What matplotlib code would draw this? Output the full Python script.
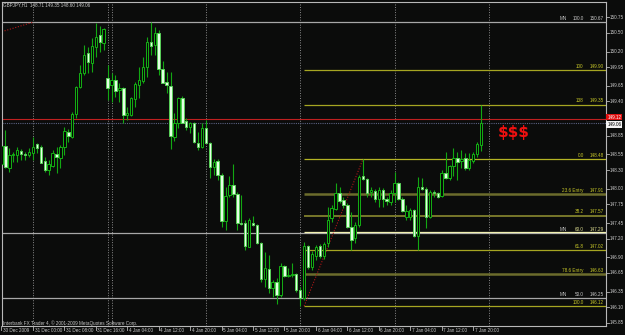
import numpy as np
import matplotlib.pyplot as plt
import matplotlib.transforms as mtransforms

# H1 bars, GBPJPY, 30 Dec 2009 16:00 .. 7 Jan 2010 22:00
opens = [148.40, 148.69, 148.34, 148.54, 148.54, 148.61, 148.56, 148.54, 148.58, 148.72,
         148.67, 148.45, 148.30, 148.37, 148.56, 148.50, 148.67, 148.91, 148.83, 149.20,
         149.63, 149.86, 150.18, 150.02, 150.27, 150.47, 150.34, 149.78, 149.67, 149.75,
         149.59, 149.62, 149.18, 149.18, 149.44, 149.67, 149.73, 149.95, 150.35, 150.31,
         150.50, 149.92, 149.71, 149.65, 148.83, 149.06, 149.46, 149.09, 148.99, 149.06,
         148.74, 148.67, 148.98, 148.74, 148.35, 148.45, 148.22, 147.49, 147.90, 148.06,
         147.92, 147.45, 147.45, 147.07, 147.45, 147.42, 147.13, 146.56, 146.72, 146.41,
         146.51, 146.30, 146.76, 146.60, 146.62, 146.64, 146.38, 146.25, 147.09, 146.75,
         146.92, 147.09, 146.92, 147.13, 147.53, 147.68, 147.93, 147.82, 147.74, 147.39,
         147.21, 147.42, 148.21, 148.16, 147.95, 147.97, 147.84, 147.98, 147.84, 147.79,
         147.93, 148.10, 147.84, 147.55, 147.55, 147.66, 147.25, 148.03, 148.00, 147.55,
         147.95, 147.93, 147.89, 148.25, 148.18, 148.37, 148.50, 148.45, 148.50, 148.34,
         148.45, 148.56, 148.71]
highs = [148.80, 148.94, 148.66, 148.59, 148.67, 148.64, 148.59, 148.66, 148.83, 148.74,
         148.70, 148.51, 148.46, 148.62, 148.67, 148.70, 148.99, 148.96, 149.23, 149.65,
         149.99, 150.31, 150.27, 150.42, 150.66, 150.61, 150.58, 149.99, 149.86, 149.83,
         149.70, 149.63, 149.31, 149.47, 149.71, 149.95, 150.11, 150.43, 150.67, 150.59,
         150.55, 150.05, 149.87, 149.87, 149.22, 149.47, 149.48, 149.14, 149.07, 149.07,
         148.91, 149.06, 149.10, 148.75, 148.48, 148.48, 148.25, 148.03, 148.21, 148.40,
         147.95, 147.90, 147.50, 147.53, 147.57, 147.44, 147.14, 146.99, 146.94, 146.54,
         146.57, 146.81, 146.78, 146.73, 146.81, 146.65, 146.43, 147.15, 147.10, 147.00,
         147.10, 147.12, 147.15, 147.71, 147.74, 148.10, 148.03, 147.87, 147.77, 147.63,
         147.47, 148.22, 148.48, 148.18, 148.03, 148.00, 148.03, 148.01, 147.87, 147.98,
         148.27, 148.11, 147.87, 147.74, 147.69, 147.68, 148.19, 148.18, 148.03, 147.98,
         147.98, 147.95, 148.30, 148.59, 148.38, 148.66, 148.59, 148.62, 148.58, 148.58,
         148.59, 148.75, 149.35]
lows = [148.18, 148.34, 148.27, 148.43, 148.43, 148.46, 148.46, 148.51, 148.46, 148.58,
        148.41, 148.27, 148.22, 148.35, 148.25, 148.34, 148.54, 148.75, 148.82, 149.14,
        149.62, 149.83, 149.86, 149.87, 150.11, 150.19, 150.23, 149.42, 149.39, 149.47,
        149.39, 149.06, 149.10, 149.17, 149.31, 149.46, 149.70, 149.79, 150.15, 150.15,
        149.83, 149.69, 149.54, 148.64, 148.77, 148.98, 149.05, 148.94, 148.90, 148.74,
        148.62, 148.66, 148.73, 148.18, 148.22, 148.14, 147.39, 147.34, 147.87, 147.87,
        147.34, 147.42, 147.02, 147.06, 147.41, 147.12, 146.51, 146.43, 146.33, 146.27,
        146.16, 146.27, 146.59, 146.59, 146.58, 146.35, 146.12, 146.22, 146.72, 146.70,
        146.86, 146.89, 146.88, 147.07, 147.47, 147.66, 147.77, 147.69, 147.37, 147.02,
        147.13, 147.39, 148.14, 147.87, 147.87, 147.79, 147.71, 147.71, 147.74, 147.74,
        147.79, 147.82, 147.63, 147.50, 147.50, 147.23, 147.02, 147.98, 147.37, 147.53,
        147.87, 147.85, 147.87, 148.16, 148.14, 148.21, 148.14, 148.34, 148.30, 148.30,
        148.42, 148.51, 148.60]
closes = [148.68, 148.35, 148.54, 148.56, 148.62, 148.56, 148.54, 148.59, 148.67, 148.66,
          148.42, 148.30, 148.40, 148.58, 148.51, 148.67, 148.93, 148.85, 149.20, 149.63,
          149.86, 150.15, 150.03, 150.29, 150.43, 150.35, 150.56, 149.62, 149.75, 149.57,
          149.62, 149.18, 149.22, 149.46, 149.68, 149.75, 149.95, 150.35, 150.29, 150.50,
          149.92, 149.70, 149.67, 148.85, 149.06, 149.46, 149.06, 148.99, 149.06, 148.75,
          148.67, 148.98, 148.74, 148.35, 148.43, 148.22, 147.49, 147.89, 148.06, 147.92,
          147.45, 147.44, 147.09, 147.50, 147.42, 147.13, 146.56, 146.73, 146.41, 146.51,
          146.30, 146.76, 146.60, 146.62, 146.64, 146.38, 146.25, 147.09, 146.75, 146.95,
          147.07, 146.92, 147.12, 147.50, 147.69, 147.93, 147.81, 147.74, 147.39, 147.18,
          147.42, 148.19, 148.16, 147.93, 147.98, 147.84, 147.98, 147.84, 147.81, 147.93,
          148.10, 147.84, 147.65, 147.65, 147.66, 147.25, 148.03, 148.00, 147.55, 147.95,
          147.93, 147.87, 148.25, 148.18, 148.37, 148.50, 148.43, 148.48, 148.34, 148.46,
          148.56, 148.72, 149.06]

time_pos = [0, 8, 16, 24, 32, 40, 48, 56, 64, 72, 80, 88, 96, 104, 112, 120]
time_labels = ["30 Dec 2009", "31 Dec 00:00", "31 Dec 08:00", "31 Dec 16:00",
               "4 Jan 04:00", "4 Jan 12:00", "4 Jan 20:00", "5 Jan 04:00",
               "5 Jan 12:00", "5 Jan 20:00", "6 Jan 04:00", "6 Jan 12:00",
               "6 Jan 20:00", "7 Jan 04:00", "7 Jan 12:00", "7 Jan 20:00"]
day_breaks = [8, 27, 28, 52, 76, 100, 124]
price_ticks = [150.75, 150.50, 150.20, 149.95, 149.65, 149.40, 148.85, 148.55, 148.30,
               148.00, 147.75, 147.45, 147.20, 146.90, 146.65, 146.35, 146.10, 145.85]

# fibo retracement levels
fib_levels = ["100", "138", "0.0", "23.6 Entry", "38.2", "50.0", "61.8", "78.6 Entry", "100.0"]
fib_prices = [149.90, 149.35, 148.48, 147.91, 147.57, 147.30, 147.02, 146.63, 146.12]
fib_colors = ['#a6a622', '#a6a622', '#b4b424', '#6c6c2c', '#77772a', '#f0f0b0',
              '#a6a622', '#6c6c2c', '#a6a622']
fib_widths = [0.9, 0.9, 0.9, 1.8, 1.4, 0.9, 0.9, 1.8, 0.9]
mn_levels = ["100.0", "60.0", "50.0"]
mn_prices = [150.67, 147.29, 146.25]
fib_start = 77
ask, bid = 149.12, 149.06

W, H = 625, 335
fig = plt.figure(figsize=(W / 100, H / 100), dpi=100, facecolor='#0b0c0b')
ax = fig.add_axes([2 / W, 9 / H, 604 / W, 324 / H], facecolor='#0b0c0b')
ax.set_xlim(0.13, 153.8)
ax.set_ylim(145.80, 150.995)
for s in ax.spines.values():
    s.set_color('#b8b8b8')
    s.set_linewidth(0.8)
ax.set_xticks([])
ax.set_yticks([])

font = ['Liberation Sans Narrow', 'Liberation Sans', 'DejaVu Sans']
fs = 3.3
txt = '#c8c8c8'
yel = '#c8c828'

# day separators
for d in day_breaks:
    ax.axvline(d, color='#8a8a8a', lw=0.7, ls=(0, (1, 1.6)), zorder=1)

# monthly fibo (gray)
for p in mn_prices:
    ax.axhline(p, color='#a8a8a8', lw=0.9, zorder=1)
xr = mtransforms.blended_transform_factory(ax.transAxes, ax.transData)

# fibo retracement lines
for lv, p, c, w in zip(fib_levels, fib_prices, fib_colors, fib_widths):
    ax.hlines(p, fib_start, 153.8, color=c, lw=w, zorder=1)
    if lv == "50.0":
        continue
    ax.text(0.963, p + 0.02, lv, transform=xr, ha='right', va='bottom', color=yel,
            fontsize=fs, family=font)
    ax.text(0.996, p + 0.02, "%.2f" % p, transform=xr, ha='right', va='bottom',
            color=yel, fontsize=fs, family=font)
for lv, p in zip(mn_levels, mn_prices):
    col = '#dcdc90' if lv == "60.0" else txt
    ax.text(0.935, p + 0.02, "MN", transform=xr, ha='right', va='bottom', color=txt,
            fontsize=fs, family=font)
    ax.text(0.963, p + 0.02, lv, transform=xr, ha='right', va='bottom', color=col,
            fontsize=fs, family=font)
    ax.text(0.996, p + 0.02, "%.2f" % p, transform=xr, ha='right', va='bottom',
            color=col, fontsize=fs, family=font)

# fibo trend lines
ax.plot([fib_start, 92], [146.12, 148.48], color='#b01818', lw=0.8, ls=(0, (1, 1.5)), zorder=1)
ax.plot([0.1, 8], [150.52, 150.67], color='#b01818', lw=0.8, ls=(0, (1, 1.5)), zorder=1)

# ask / bid lines
ax.axhline(ask, color='#c02020', lw=0.8, zorder=1)
ax.axhline(bid, color='#5a6080', lw=0.8, ls=(0, (1, 1)), zorder=1)

# candles
o = np.array(opens); h = np.array(highs); l = np.array(lows); c = np.array(closes)
idx = np.arange(len(o))
up = c >= o
ax.vlines(idx, l, h, color='#12a812', lw=0.8, zorder=2)
bottom = np.minimum(o, c)
height = np.maximum(np.abs(c - o), 0.014)
ax.bar(idx[up], height[up], bottom=bottom[up], width=0.62, facecolor='#050805',
       edgecolor='#14b014', lw=0.7, zorder=3)
ax.bar(idx[~up], height[~up], bottom=bottom[~up], width=0.62, facecolor='#e4ffe4',
       edgecolor='#58d058', lw=0.7, zorder=3)

ax.text(126.2, 148.91, "$$$", color='#ee1010', fontsize=11, fontweight='bold',
        family='DejaVu Sans', va='center', ha='left')

# price axis
for p in price_ticks:
    ax.plot([1.0, 1.005], [p, p], transform=xr, color='#b8b8b8', lw=0.6, clip_on=False)
    ax.text(1.006, p, "%.2f" % p, transform=xr, ha='left', va='center', color=txt,
            fontsize=fs, family=font, clip_on=False)
ax.text(1.002, ask + 0.03, "%.2f" % ask, transform=xr, ha='left', va='center', color='white',
        fontsize=fs, family=font, clip_on=False,
        bbox=dict(boxstyle='square,pad=0.2', fc='#e01010', ec='none'))
ax.text(1.002, bid - 0.03, "%.2f" % bid, transform=xr, ha='left', va='center', color='black',
        fontsize=fs, family=font, clip_on=False,
        bbox=dict(boxstyle='square,pad=0.2', fc='#f4f4f4', ec='none'))

# time axis
xb = mtransforms.blended_transform_factory(ax.transData, ax.transAxes)
for t, lab in zip(time_pos, time_labels):
    ax.plot([t, t], [0, -0.012], transform=xb, color='#b8b8b8', lw=0.6, clip_on=False)
    ax.text(t + 0.4, -0.006, lab, transform=xb, ha='left', va='top', color=txt,
            fontsize=fs, family=font, clip_on=False)

fig.text(3 / W, 1 - 5 / H, "GBPJPY,H1  148.71 149.35 148.60 149.06", color=txt,
         fontsize=fs, family=font, va='center', ha='left')
fig.text(3 / W, 1 - 323 / H, "Interbank FX Trader 4, \u00a9 2001-2009 MetaQuotes Software Corp.",
         color=txt, fontsize=fs, family=font, va='center', ha='left')

fig.savefig('out.png', dpi=100, facecolor=fig.get_facecolor())
